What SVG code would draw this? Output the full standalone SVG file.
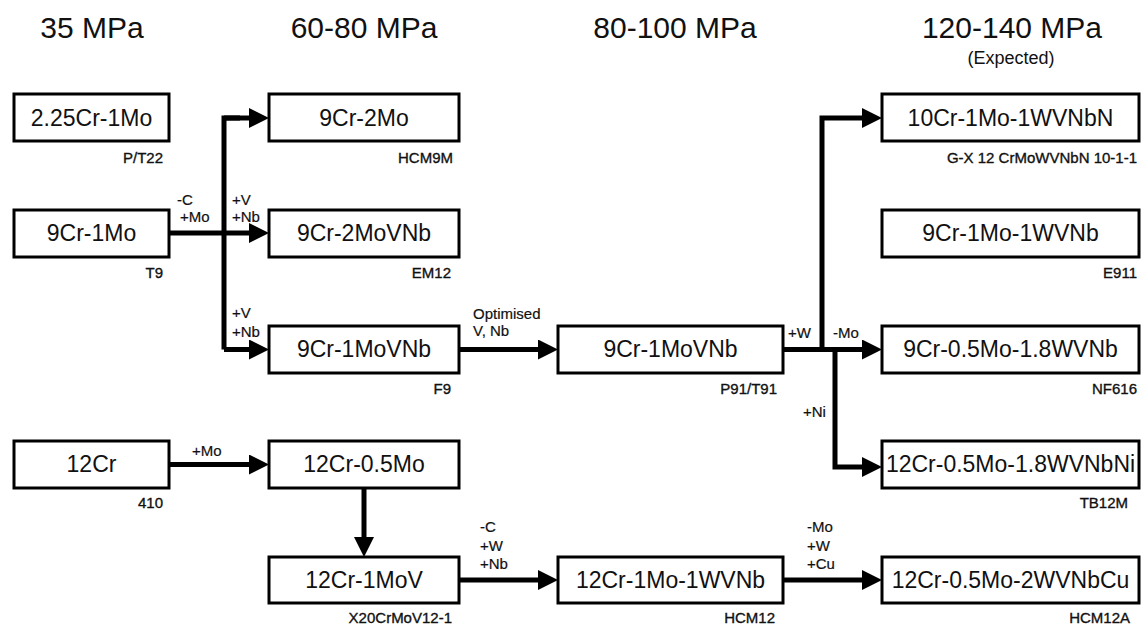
<svg xmlns="http://www.w3.org/2000/svg" width="1142" height="625" viewBox="0 0 1142 625">
<defs>
<marker id="ah" markerUnits="userSpaceOnUse" markerWidth="20" markerHeight="20" refX="2" refY="10" orient="auto" viewBox="0 0 20 20">
<path d="M0,0 L20,10 L0,20 Z" fill="#000"/>
</marker>
<style>
text{font-family:"Liberation Sans",Arial,Helvetica,sans-serif;fill:#111}
.hdr{font-size:30px;text-anchor:middle}
.sub{font-size:18px;text-anchor:middle}
.box{fill:#fff;stroke:#000;stroke-width:3}
.bt{font-size:23px;text-anchor:middle}
.lab{font-size:15px;text-anchor:end;stroke:#111;stroke-width:0.35}
.cl{font-size:15px;stroke:#111;stroke-width:0.2}
.con{fill:none;stroke:#000;stroke-width:5;stroke-linejoin:miter}
.arr{marker-end:url(#ah)}
</style>
</defs>
<rect width="1142" height="625" fill="#fff"/>
<g id="headers">
<text class="hdr" x="92" y="38">35 MPa</text>
<text class="hdr" x="364" y="38">60-80 MPa</text>
<text class="hdr" x="675" y="38">80-100 MPa</text>
<text class="hdr" x="1012" y="38">120-140 MPa</text>
<text class="sub" x="1011" y="64">(Expected)</text>
</g>
<g id="connectors">
<path class="con arr" d="M169,233 H251"/>
<path class="con" d="M240,118 H224 V349.5"/>
<path class="con arr" d="M224,118 H251"/>
<path class="con arr" d="M224,349.5 H251"/>
<path class="con arr" d="M459,349.5 H540"/>
<path class="con arr" d="M783,349.5 H864"/>
<path class="con arr" d="M822,349.5 V118 H864"/>
<path class="con arr" d="M835,349.5 V467 H864"/>
<path class="con arr" d="M169,464.5 H251"/>
<path class="con arr" d="M364,487 V539"/>
<path class="con arr" d="M459,580 H540"/>
<path class="con arr" d="M783,580 H864"/>
<text class="cl" x="177" y="205">-C</text>
<text class="cl" x="180" y="222">+Mo</text>
<text class="cl" x="232" y="205">+V</text>
<text class="cl" x="232" y="222">+Nb</text>
<text class="cl" x="232" y="318">+V</text>
<text class="cl" x="232" y="337">+Nb</text>
<text class="cl" x="473" y="319">Optimised</text>
<text class="cl" x="473" y="336">V, Nb</text>
<text class="cl" x="788" y="338">+W</text>
<text class="cl" x="833" y="338">-Mo</text>
<text class="cl" x="803" y="417">+Ni</text>
<text class="cl" x="192" y="456">+Mo</text>
<text class="cl" x="480" y="532">-C</text>
<text class="cl" x="480" y="551">+W</text>
<text class="cl" x="480" y="569">+Nb</text>
<text class="cl" x="807" y="532">-Mo</text>
<text class="cl" x="807" y="551">+W</text>
<text class="cl" x="807" y="569">+Cu</text>
</g>
<g id="n-225Cr1Mo"><rect class="box" x="14" y="94" width="155" height="47"/><text class="bt" x="91.5" y="126">2.25Cr-1Mo</text><text class="lab" x="163" y="163">P/T22</text></g>
<g id="n-9Cr1Mo"><rect class="box" x="14" y="210" width="155" height="47"/><text class="bt" x="91.5" y="241">9Cr-1Mo</text><text class="lab" x="163" y="278">T9</text></g>
<g id="n-12Cr"><rect class="box" x="14" y="441" width="155" height="47"/><text class="bt" x="91.5" y="472">12Cr</text><text class="lab" x="163" y="508">410</text></g>
<g id="n-9Cr2Mo"><rect class="box" x="269" y="94" width="190" height="47"/><text class="bt" x="364" y="126">9Cr-2Mo</text><text class="lab" x="453" y="163">HCM9M</text></g>
<g id="n-9Cr2MoVNb"><rect class="box" x="269" y="210" width="190" height="47"/><text class="bt" x="364" y="241">9Cr-2MoVNb</text><text class="lab" x="451" y="278">EM12</text></g>
<g id="n-9Cr1MoVNb-F9"><rect class="box" x="269" y="326" width="190" height="47"/><text class="bt" x="364" y="357">9Cr-1MoVNb</text><text class="lab" x="451" y="394">F9</text></g>
<g id="n-12Cr05Mo"><rect class="box" x="269" y="441" width="190" height="47"/><text class="bt" x="364" y="472">12Cr-0.5Mo</text></g>
<g id="n-12Cr1MoV"><rect class="box" x="269" y="557" width="190" height="46"/><text class="bt" x="364" y="588">12Cr-1MoV</text><text class="lab" x="452" y="623">X20CrMoV12-1</text></g>
<g id="n-9Cr1MoVNb-P91"><rect class="box" x="558" y="326" width="225" height="47"/><text class="bt" x="670.5" y="357">9Cr-1MoVNb</text><text class="lab" x="777" y="394">P91/T91</text></g>
<g id="n-12Cr1Mo1WVNb"><rect class="box" x="558" y="557" width="225" height="46"/><text class="bt" x="670.5" y="588">12Cr-1Mo-1WVNb</text><text class="lab" x="775" y="623">HCM12</text></g>
<g id="n-10Cr1Mo1WVNbN"><rect class="box" x="882" y="94" width="257" height="47"/><text class="bt" x="1010.5" y="126">10Cr-1Mo-1WVNbN</text><text class="lab" x="1137" y="163">G-X 12 CrMoWVNbN 10-1-1</text></g>
<g id="n-9Cr1Mo1WVNb"><rect class="box" x="882" y="210" width="257" height="47"/><text class="bt" x="1010.5" y="241">9Cr-1Mo-1WVNb</text><text class="lab" x="1137" y="278">E911</text></g>
<g id="n-9Cr05Mo18WVNb"><rect class="box" x="882" y="326" width="257" height="47"/><text class="bt" x="1010.5" y="357">9Cr-0.5Mo-1.8WVNb</text><text class="lab" x="1137" y="394">NF616</text></g>
<g id="n-12Cr05Mo18WVNbNi"><rect class="box" x="882" y="441" width="257" height="47"/><text class="bt" x="1010.5" y="472">12Cr-0.5Mo-1.8WVNbNi</text><text class="lab" x="1128" y="508">TB12M</text></g>
<g id="n-12Cr05Mo2WVNbCu"><rect class="box" x="882" y="557" width="257" height="46"/><text class="bt" x="1010.5" y="588">12Cr-0.5Mo-2WVNbCu</text><text class="lab" x="1130" y="623">HCM12A</text></g>
</svg>
